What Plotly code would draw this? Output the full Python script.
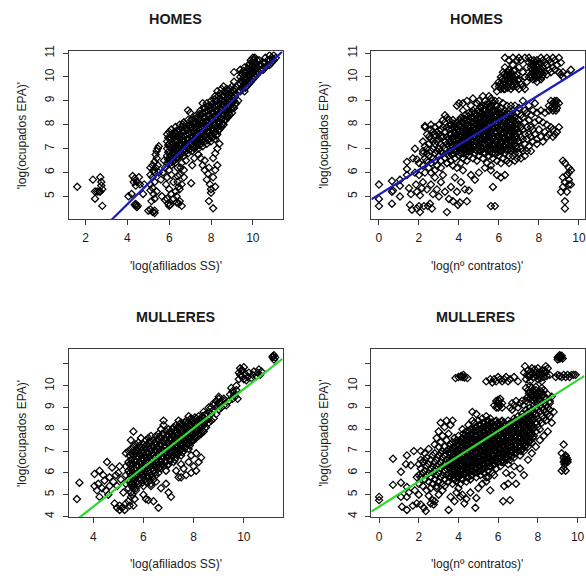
import plotly.graph_objects as go

FONT = "Liberation Sans, Arial, sans-serif"
W, H = 586, 579
BLUE = "#1c1cb8"
GREEN = "#2fd62f"

# ---------------------------------------------------------------------------
# HOMES: log(afiliados SS) vs log(ocupados EPA)
# dense band stored as (x, [y, ...]) columns, scattered points as (x, y) pairs
HOMES_SS_COLS = [
    (5.9, [6.4, 6.7, 7.0, 7.3, 7.6]), (6.0, [6.5, 6.9, 7.2, 7.7]),
    (6.1, [6.3, 6.6, 7.0, 7.4, 7.8]), (6.2, [6.6, 6.9, 7.2, 7.5]),
    (6.3, [6.4, 6.8, 7.1, 7.6, 7.9]), (6.4, [6.6, 7.0, 7.3, 7.7]),
    (6.5, [6.7, 7.0, 7.4, 7.8, 8.0]), (6.6, [6.8, 7.2, 7.5, 7.9]),
    (6.7, [6.7, 7.0, 7.3, 7.7, 8.1]), (6.8, [6.9, 7.2, 7.6, 8.0]),
    (6.9, [6.8, 7.1, 7.4, 7.8, 8.2, 8.6]), (7.0, [7.0, 7.3, 7.7, 8.0, 8.5]),
    (7.1, [6.9, 7.2, 7.5, 7.9, 8.2]), (7.2, [7.0, 7.4, 7.7, 8.1]),
    (7.3, [7.1, 7.4, 7.8, 8.1, 8.4]), (7.4, [7.0, 7.3, 7.6, 8.0, 8.3]),
    (7.5, [7.2, 7.5, 7.9, 8.2, 8.6]), (7.6, [7.1, 7.4, 7.7, 8.1, 8.5, 8.9]),
    (7.7, [7.3, 7.6, 8.0, 8.3, 8.7]), (7.8, [7.2, 7.5, 7.9, 8.2, 8.6, 8.9]),
    (7.9, [7.4, 7.7, 8.1, 8.4, 8.8]), (8.0, [7.3, 7.6, 8.0, 8.3, 8.7, 9.0]),
    (8.1, [7.5, 7.8, 8.2, 8.5, 8.9]), (8.2, [7.4, 7.7, 8.0, 8.4, 8.8, 9.2]),
    (8.3, [7.6, 7.9, 8.3, 8.6, 9.0, 9.4]), (8.4, [7.8, 8.1, 8.5, 8.9, 9.3]),
    (8.5, [7.9, 8.2, 8.6, 9.0, 9.5]), (8.6, [8.0, 8.4, 8.8, 9.2, 9.6]),
    (8.7, [8.2, 8.6, 8.9, 9.3]), (8.8, [8.3, 8.6, 9.0, 9.4]),
    (8.9, [8.4, 8.8, 9.1, 9.5]), (9.0, [8.5, 8.9, 9.2, 9.6]),
    (9.1, [8.7, 9.0, 9.4, 9.8, 10.2]), (9.2, [8.9, 9.3, 9.6]),
    (9.3, [9.0, 9.4]), (9.4, [9.4, 9.7, 10.0, 10.3]),
    (9.5, [9.5, 9.8, 10.1]), (9.6, [9.4, 9.7, 10.0, 10.4]),
    (9.7, [9.6, 9.9, 10.2]), (9.8, [9.7, 10.0, 10.3, 10.5]),
    (9.9, [9.8, 10.1, 10.4, 10.7]), (10.0, [9.9, 10.2, 10.5, 10.8]),
    (10.1, [10.0, 10.3, 10.6, 10.8]), (10.2, [10.1, 10.4, 10.7]),
    (10.3, [10.2, 10.5, 10.7]), (10.4, [10.3, 10.5]),
    (10.5, [10.3, 10.6]), (10.6, [10.4, 10.6, 10.8]),
    (10.7, [10.5, 10.7]), (10.8, [10.5, 10.7, 10.9]),
    (10.9, [10.6, 10.8]), (11.0, [10.7, 10.9]), (11.1, [10.8]),
]
HOMES_SS_FILL = [
    (5.95, [6.55, 6.85, 7.15, 7.45]), (6.05, [6.4, 6.7, 7.05, 7.45]),
    (6.15, [6.45, 6.8, 7.2, 7.6]), (6.25, [6.5, 6.75, 7.05, 7.35, 7.7]),
    (6.35, [6.6, 6.95, 7.35, 7.75]), (6.45, [6.8, 7.15, 7.5]),
    (6.55, [6.85, 7.2, 7.6]), (6.65, [6.9, 7.35, 7.7, 8.0]),
    (6.75, [6.85, 7.15, 7.5, 7.85]), (6.85, [7.05, 7.4, 7.8]),
    (6.95, [6.95, 7.25, 7.6, 7.95]), (7.05, [7.15, 7.5, 7.85, 8.2]),
    (7.15, [7.05, 7.35, 7.7, 8.05]), (7.25, [7.25, 7.55, 7.9, 8.25]),
    (7.35, [7.2, 7.6, 7.95]), (7.45, [7.15, 7.45, 7.8, 8.15, 8.45]),
    (7.55, [7.35, 7.7, 8.05, 8.4]), (7.65, [7.25, 7.55, 7.9, 8.3, 8.7]),
    (7.75, [7.45, 7.8, 8.15, 8.5]), (7.85, [7.35, 7.7, 8.05, 8.4, 8.75]),
    (7.95, [7.55, 7.9, 8.25, 8.6]), (8.05, [7.45, 7.8, 8.15, 8.5, 8.85]),
    (8.15, [7.65, 8.0, 8.35, 8.7, 9.05]), (8.25, [7.55, 7.85, 8.2, 8.6, 9.0]),
    (8.35, [7.75, 8.1, 8.45, 8.8, 9.2]), (8.45, [7.95, 8.3, 8.7, 9.1]),
    (8.55, [8.05, 8.4, 8.8, 9.2]), (8.65, [8.2, 8.55, 9.0, 9.4]),
    (8.75, [8.35, 8.75, 9.1, 9.5]), (8.85, [8.5, 8.85, 9.25]),
    (8.95, [8.65, 9.0, 9.35]), (9.05, [8.75, 9.1, 9.45]),
    (9.15, [8.85, 9.2, 9.5]), (9.45, [9.55, 9.85, 10.15]),
    (9.55, [9.6, 9.95, 10.25]), (9.65, [9.55, 9.85, 10.2]),
    (9.75, [9.75, 10.05, 10.35]), (9.85, [9.85, 10.2, 10.55]),
    (9.95, [9.95, 10.3, 10.6]), (10.05, [10.05, 10.4, 10.7]),
    (10.15, [10.15, 10.5]),
]
HOMES_SS_PTS = [
    (1.6, 5.4), (2.35, 5.7), (2.45, 5.2), (2.45, 4.9), (2.55, 5.2), (2.65, 5.2),
    (2.7, 5.8), (2.75, 5.6), (2.75, 5.45), (2.7, 5.2), (2.8, 5.3), (2.8, 4.6),
    (4.05, 5.0), (4.25, 5.85), (4.35, 5.75), (4.3, 5.6), (4.45, 5.6), (4.4, 5.45),
    (4.55, 5.8), (4.6, 5.5), (4.2, 5.1), (4.35, 4.65), (4.4, 4.6), (4.45, 4.55),
    (4.4, 4.68), (4.5, 4.6), (4.8, 5.5), (4.75, 5.1),
    (5.0, 4.4), (5.1, 4.45), (5.2, 4.35), (5.3, 4.3), (5.3, 4.4), (5.15, 4.8),
    (5.3, 4.9), (5.25, 5.1), (5.1, 5.25), (5.2, 5.35), (5.1, 5.5), (5.3, 5.6),
    (5.2, 5.8), (5.1, 5.9), (5.3, 6.0), (5.25, 6.1), (5.1, 6.2), (5.2, 6.3),
    (5.35, 6.2), (5.3, 6.45), (5.4, 6.6), (5.35, 6.75), (5.4, 6.9), (5.45, 7.0),
    (5.5, 7.1), (5.45, 6.3), (5.5, 6.0), (5.4, 5.2), (5.65, 5.0), (5.8, 4.85),
    (5.95, 4.7), (5.6, 5.7), (5.7, 6.0), (5.75, 6.5), (5.8, 6.2),
    (6.0, 6.1), (5.9, 5.8), (6.1, 5.9), (5.85, 5.5), (6.0, 5.3), (6.1, 5.1),
    (5.9, 4.9), (6.0, 4.6), (6.05, 4.65), (6.2, 5.6), (6.3, 5.2), (6.2, 4.9),
    (6.4, 6.2), (6.5, 5.9), (6.4, 5.6), (6.5, 5.3), (6.35, 5.0), (6.5, 4.8),
    (6.6, 4.6), (6.45, 4.7), (6.6, 5.5), (6.7, 6.1), (6.6, 6.4), (6.8, 6.5),
    (6.7, 5.8), (7.1, 6.3), (7.05, 5.55), (7.2, 6.6), (7.5, 6.6), (7.6, 6.3),
    (7.7, 6.1), (7.85, 5.95), (7.8, 5.7), (7.95, 5.5), (8.0, 5.3), (8.0, 5.15),
    (8.2, 5.4), (8.1, 5.8), (8.2, 6.1), (8.3, 6.3), (8.1, 6.6), (8.2, 6.8),
    (8.3, 7.0), (8.4, 7.2), (7.9, 4.8), (8.1, 4.5), (7.7, 6.5), (7.4, 6.75),
    (7.9, 6.2), (6.35, 4.75), (6.45, 5.4), (6.55, 6.2), (6.4, 5.85),
]
HOMES_SS_FIT = (1.22, 0.863)  # intercept, slope

# ---------------------------------------------------------------------------
# HOMES: log(nº contratos) vs log(ocupados EPA)
HOMES_CT_COLS = [
    (2.2, [6.3, 6.9, 7.3]), (2.3, [6.6, 7.1, 7.9, 7.95]), (2.4, [6.5, 6.8, 7.0, 7.6]),
    (2.5, [6.2, 6.7, 7.2, 7.5]), (2.6, [6.4, 6.9, 7.4, 7.8, 8.0]),
    (2.7, [6.6, 7.0, 7.3, 7.7]), (2.8, [6.5, 6.8, 7.2, 7.6, 7.9]),
    (2.9, [6.3, 6.9, 7.3, 7.7]), (3.0, [6.7, 7.0, 7.4, 7.6, 8.0]),
    (3.1, [6.5, 6.9, 7.2, 7.5, 7.8]), (3.2, [6.8, 7.1, 7.5, 7.9, 8.2]),
    (3.3, [6.6, 7.0, 7.3, 7.7, 8.1, 8.4]), (3.4, [6.4, 6.8, 7.2, 7.5, 7.9, 8.3]),
    (3.5, [6.7, 7.1, 7.4, 7.8, 8.2]), (3.6, [6.5, 6.9, 7.3, 7.6, 8.0]),
    (3.7, [6.8, 7.1, 7.5, 7.9, 8.2]), (3.8, [6.6, 7.0, 7.4, 7.7, 8.0]),
    (3.9, [6.2, 6.9, 7.2, 7.6, 8.1, 8.8]), (4.0, [6.7, 7.0, 7.4, 7.7, 8.0, 8.9]),
    (4.1, [6.4, 6.8, 7.2, 7.5, 7.9, 8.3]), (4.2, [6.6, 7.0, 7.3, 7.7, 8.1, 8.6, 8.9]),
    (4.3, [6.9, 7.2, 7.6, 8.0, 8.4]), (4.4, [6.5, 6.8, 7.1, 7.5, 7.8, 8.2, 9.0]),
    (4.5, [6.7, 7.0, 7.4, 7.7, 8.0, 8.5]), (4.6, [6.9, 7.2, 7.6, 7.9, 8.3, 8.8]),
    (4.7, [6.6, 7.0, 7.3, 7.7, 8.1, 8.6, 9.1]), (4.8, [6.8, 7.1, 7.5, 7.8, 8.2, 8.5]),
    (4.9, [6.5, 6.9, 7.3, 7.6, 8.0, 8.4, 8.9]), (5.0, [6.7, 7.1, 7.4, 7.8, 8.1, 8.5, 9.0]),
    (5.1, [6.9, 7.2, 7.6, 7.9, 8.3, 8.7]), (5.2, [6.6, 7.0, 7.4, 7.7, 8.1, 8.4, 8.8, 9.2]),
    (5.3, [6.8, 7.2, 7.5, 7.9, 8.2, 8.6, 9.0]), (5.4, [6.4, 7.0, 7.3, 7.7, 8.0, 8.4, 8.8]),
    (5.5, [6.7, 7.1, 7.5, 7.8, 8.2, 8.5, 8.9, 9.2]),
    (5.6, [6.3, 6.9, 7.3, 7.6, 8.0, 8.3, 8.7, 9.1]),
    (5.7, [6.6, 7.0, 7.4, 7.8, 8.1, 8.5, 8.9]),
    (5.8, [6.8, 7.2, 7.5, 7.9, 8.2, 8.6, 9.0, 9.6]),
    (5.9, [6.5, 7.0, 7.3, 7.7, 8.0, 8.4, 8.8, 9.4]),
    (6.0, [6.7, 7.1, 7.5, 7.8, 8.2, 8.5, 9.0, 9.6, 9.8]),
    (6.1, [6.4, 6.9, 7.3, 7.6, 8.0, 8.4, 8.7, 9.5, 10.0]),
    (6.2, [6.6, 7.0, 7.4, 7.7, 8.1, 8.5, 8.9, 9.7, 10.2]),
    (6.3, [6.8, 7.2, 7.5, 7.9, 8.3, 8.6, 9.5, 9.9, 10.4, 10.8]),
    (6.4, [6.5, 7.0, 7.4, 7.8, 8.1, 8.5, 8.8, 9.6, 10.1]),
    (6.5, [6.7, 7.1, 7.5, 7.9, 8.2, 8.6, 9.7, 10.0, 10.3, 10.7]),
    (6.6, [6.9, 7.3, 7.7, 8.0, 8.4, 8.8, 9.5, 9.9, 10.2]),
    (6.7, [6.7, 7.0, 7.4, 7.8, 8.2, 8.6, 9.6, 10.0, 10.5, 10.8]),
    (6.8, [6.8, 7.2, 7.6, 8.0, 8.3, 8.8, 9.8, 10.3]),
    (6.9, [6.6, 7.0, 7.4, 7.8, 8.1, 8.5, 9.6, 10.1, 10.7]),
    (7.0, [6.8, 7.3, 7.7, 8.2, 8.7, 9.5, 9.9, 10.4, 10.8]),
    (7.1, [7.0, 7.5, 7.9, 8.4, 9.7, 10.7]), (7.2, [6.9, 7.4, 7.8, 8.3, 9.0, 9.6, 10.2]),
    (7.3, [7.2, 7.6, 8.1, 8.6, 9.5, 10.0, 10.8]), (7.4, [6.9, 7.4, 7.9, 8.5, 9.8, 10.4]),
    (7.5, [7.1, 7.6, 8.2, 8.8, 10.0, 10.6, 10.8]), (7.6, [7.5, 7.9, 8.4, 10.1, 10.4, 10.7]),
    (7.7, [7.3, 7.8, 8.6, 9.9, 10.2, 10.5]), (7.8, [7.6, 8.1, 8.9, 10.0, 10.3, 10.6]),
    (7.9, [7.4, 8.5, 9.8, 10.1, 10.4, 10.7]), (8.0, [7.8, 8.2, 10.0, 10.3, 10.5]),
    (8.1, [7.5, 8.6, 9.9, 10.2, 10.8]), (8.2, [8.1, 10.1, 10.4, 10.7]),
    (8.3, [7.7, 8.5, 10.2, 10.6]), (8.4, [8.0, 10.1, 10.5, 10.8]),
    (8.5, [7.6, 8.6, 8.8, 10.3, 10.7]), (8.6, [7.9, 8.7, 9.0, 10.2, 10.6]),
    (8.7, [7.5, 8.6, 8.9, 10.4, 10.8]), (8.8, [8.8, 9.0, 10.3, 10.7]),
    (8.9, [7.7, 8.7, 9.0, 10.5]), (9.0, [8.9, 10.2, 10.8]),
    (9.1, [10.1, 10.6]), (9.2, [10.0, 10.2]), (9.4, [10.1]), (9.6, [10.3]),
]
HOMES_CT_FILL = [
    (3.55, [6.9, 7.25, 7.6, 8.0]), (3.65, [6.75, 7.1, 7.45, 7.8]),
    (3.75, [6.95, 7.3, 7.7, 8.05]), (3.85, [6.85, 7.2, 7.55, 7.9]),
    (3.95, [7.05, 7.4, 7.8]), (4.05, [6.85, 7.2, 7.55, 7.9, 8.2]),
    (4.15, [7.05, 7.35, 7.7, 8.1]), (4.25, [6.8, 7.15, 7.5, 7.85, 8.25]),
    (4.35, [7.0, 7.35, 7.7, 8.05]), (4.45, [6.9, 7.25, 7.6, 7.95, 8.35]),
    (4.55, [7.1, 7.5, 7.85, 8.2]), (4.65, [7.0, 7.4, 7.75, 8.1, 8.5]),
    (4.75, [7.15, 7.5, 7.9, 8.3]), (4.85, [6.95, 7.3, 7.65, 8.05, 8.4]),
    (4.95, [7.2, 7.55, 7.9, 8.25, 8.6]), (5.05, [6.9, 7.3, 7.65, 8.0, 8.35, 8.75]),
    (5.15, [7.05, 7.4, 7.8, 8.15, 8.5]), (5.25, [6.85, 7.2, 7.55, 7.95, 8.3, 8.65]),
    (5.35, [7.0, 7.4, 7.75, 8.1, 8.45, 8.85]), (5.45, [6.9, 7.25, 7.6, 7.95, 8.3, 8.7]),
    (5.55, [7.0, 7.35, 7.7, 8.05, 8.4, 8.75]),
    (5.65, [6.8, 7.15, 7.5, 7.9, 8.25, 8.6, 9.0]),
    (5.75, [7.1, 7.45, 7.85, 8.2, 8.55]), (5.85, [7.0, 7.35, 7.7, 8.1, 8.45, 8.8]),
    (5.95, [6.85, 7.2, 7.55, 7.9, 8.3, 8.65]), (6.05, [7.05, 7.4, 7.75, 8.1, 8.45, 9.7]),
    (6.15, [6.9, 7.25, 7.6, 7.95, 8.3, 9.6, 9.9]),
    (6.25, [7.1, 7.45, 7.85, 8.2, 9.5, 9.8, 10.1]),
    (6.35, [6.95, 7.3, 7.7, 8.05, 8.4, 9.7, 10.0]),
    (6.45, [7.2, 7.55, 7.95, 8.3, 9.55, 9.9, 10.2]),
    (6.55, [7.0, 7.35, 7.75, 8.1, 9.8, 10.1]), (6.65, [7.15, 7.5, 7.9, 8.25, 9.65, 10.0]),
    (6.75, [6.95, 7.35, 7.7, 8.4, 9.85, 10.25]), (6.85, [7.1, 7.5, 7.85, 9.7, 10.0]),
    (6.95, [7.3, 7.65, 8.0, 9.85]), (7.65, [10.0, 10.3, 10.55]),
    (7.75, [10.1, 10.4, 10.7]), (7.85, [9.95, 10.25, 10.5]),
    (7.95, [10.15, 10.45]), (8.05, [10.1, 10.35, 10.6]),
    (8.15, [10.0, 10.3]), (8.75, [8.7, 8.95]), (8.85, [8.6, 8.85]),
]
HOMES_CT_PTS = [
    (0.0, 5.5), (0.0, 4.9), (0.0, 4.6), (0.65, 5.65), (0.65, 5.2), (0.7, 5.25),
    (0.65, 4.7), (1.05, 5.7), (1.05, 5.45), (1.05, 5.0), (1.4, 6.45), (1.4, 6.15),
    (1.4, 5.9), (1.5, 5.35), (1.6, 5.1), (1.55, 4.65), (1.65, 4.45), (1.8, 7.0),
    (1.9, 6.55), (1.8, 6.0), (1.85, 5.5), (1.9, 5.2), (1.9, 4.5), (2.05, 4.35),
    (2.0, 4.6), (2.15, 5.35), (2.05, 5.05), (2.0, 5.9), (2.2, 5.6), (2.25, 4.6),
    (2.45, 4.6), (2.55, 4.7), (2.65, 4.5), (2.4, 5.3), (2.6, 5.5), (2.7, 5.1),
    (2.8, 5.8), (2.9, 5.3), (3.0, 5.0), (3.1, 5.6), (3.2, 5.9), (3.4, 4.35),
    (3.5, 4.9), (3.3, 5.2), (3.6, 5.4), (3.7, 4.8), (3.9, 5.2), (3.95, 4.65),
    (4.05, 4.75), (4.4, 4.8), (4.3, 5.3), (4.5, 5.25), (4.6, 5.9), (4.8, 5.7),
    (5.0, 6.0), (5.3, 6.2), (5.6, 6.1), (5.7, 5.4), (5.9, 5.9), (6.1, 5.8),
    (6.3, 5.9), (5.6, 4.6), (5.8, 4.6), (4.2, 6.1), (4.1, 5.6), (3.8, 5.8),
    (3.7, 6.3), (3.4, 6.4), (3.1, 6.2), (2.8, 6.1), (2.6, 6.0), (2.3, 6.0),
    (1.7, 6.6), (2.0, 6.4), (2.2, 6.8), (6.5, 6.4), (6.8, 6.5), (7.1, 6.6),
    (7.3, 6.7), (7.6, 6.9), (7.9, 7.2), (8.2, 7.3), (8.4, 7.5), (8.8, 7.6),
    (9.0, 7.9), (8.7, 7.8),
    (9.1, 5.2), (9.2, 6.5), (9.3, 6.4), (9.2, 5.8), (9.3, 5.6), (9.2, 5.4),
    (9.4, 5.9), (9.5, 6.0), (9.5, 6.2), (9.6, 6.1), (9.5, 5.5), (9.6, 5.5),
    (9.4, 5.2), (9.3, 4.8), (9.3, 4.5), (9.5, 5.7),
]
HOMES_CT_FIT = (5.08, 0.52)

# ---------------------------------------------------------------------------
# MULLERES: log(afiliados SS) vs log(ocupados EPA)
MULLERES_SS_COLS = [
    (5.3, [5.5, 5.9, 6.3, 6.9]), (5.4, [5.3, 5.7, 6.1, 6.5, 7.0]),
    (5.5, [5.1, 5.5, 5.9, 6.2, 6.6, 7.1, 7.5]), (5.6, [5.6, 6.0, 6.4, 6.8, 7.2, 7.9]),
    (5.7, [5.3, 5.8, 6.1, 6.5, 6.9, 7.3]), (5.8, [5.5, 5.9, 6.3, 6.7, 7.0, 7.4]),
    (5.9, [5.7, 6.0, 6.4, 6.8, 7.2, 7.6]), (6.0, [5.4, 5.8, 6.2, 6.6, 6.9, 7.3]),
    (6.1, [5.6, 6.0, 6.3, 6.7, 7.1, 7.5]), (6.2, [5.8, 6.1, 6.5, 6.9, 7.2, 7.6]),
    (6.3, [5.5, 5.9, 6.3, 6.6, 7.0, 7.4, 7.7]), (6.4, [5.7, 6.1, 6.4, 6.8, 7.2, 7.5]),
    (6.5, [5.9, 6.3, 6.6, 7.0, 7.3, 7.7]), (6.6, [6.0, 6.4, 6.8, 7.1, 7.5, 7.8]),
    (6.7, [6.2, 6.5, 6.9, 7.3, 7.6, 8.0]), (6.8, [6.3, 6.7, 7.0, 7.4, 7.8, 8.2, 8.4]),
    (6.9, [6.1, 6.5, 6.9, 7.2, 7.5, 7.9]), (7.0, [6.4, 6.8, 7.1, 7.4, 7.7, 8.0]),
    (7.1, [6.6, 6.9, 7.2, 7.6, 7.9]), (7.2, [6.5, 6.8, 7.1, 7.4, 7.7, 8.1]),
    (7.3, [6.7, 7.0, 7.3, 7.6, 7.9, 8.2]), (7.4, [6.9, 7.2, 7.5, 7.8, 8.1, 8.4]),
    (7.5, [6.8, 7.1, 7.4, 7.7, 8.0, 8.3]), (7.6, [7.0, 7.3, 7.6, 7.9, 8.2]),
    (7.7, [7.2, 7.5, 7.8, 8.1, 8.4]), (7.8, [7.1, 7.4, 7.7, 8.0, 8.3, 8.6]),
    (7.9, [7.4, 7.6, 7.9, 8.2, 8.5]), (8.0, [7.5, 7.8, 8.1, 8.4]),
    (8.1, [7.6, 7.9, 8.2, 8.5]), (8.2, [7.7, 8.0, 8.3, 8.6]),
    (8.3, [7.8, 8.1, 8.4]), (8.4, [7.9, 8.2, 8.5, 8.8]),
    (8.5, [8.1, 8.4, 8.7]), (8.6, [8.3, 8.5, 8.8, 9.0]),
    (8.7, [8.4, 8.7, 9.0]), (8.8, [8.5, 8.9, 9.2]),
    (8.9, [8.7, 9.0, 9.3]), (9.0, [8.9, 9.2, 9.4]),
    (9.1, [9.0, 9.3]), (9.2, [9.1, 9.3]),
]
MULLERES_SS_FILL = [
    (5.45, [5.6, 6.0, 6.4, 6.8]), (5.55, [5.35, 5.75, 6.1, 6.45, 6.9]),
    (5.65, [5.45, 5.85, 6.2, 6.6, 7.0]), (5.75, [5.6, 5.95, 6.35, 6.75, 7.15]),
    (5.85, [5.75, 6.1, 6.5, 6.85, 7.25]), (5.95, [5.55, 5.95, 6.3, 6.7, 7.05]),
    (6.05, [5.7, 6.1, 6.45, 6.8, 7.2]), (6.15, [5.8, 6.2, 6.55, 6.9, 7.3]),
    (6.25, [5.65, 6.0, 6.35, 6.75, 7.1, 7.45]), (6.35, [5.85, 6.2, 6.55, 6.9, 7.25]),
    (6.45, [6.0, 6.35, 6.7, 7.05, 7.4]), (6.55, [6.15, 6.5, 6.85, 7.2, 7.55]),
    (6.65, [6.25, 6.6, 6.95, 7.3, 7.65]), (6.75, [6.4, 6.75, 7.1, 7.45, 7.8]),
    (6.85, [6.5, 6.85, 7.2, 7.6]), (6.95, [6.35, 6.7, 7.05, 7.35, 7.7]),
    (7.05, [6.6, 6.95, 7.25, 7.55, 7.85]), (7.15, [6.75, 7.05, 7.35, 7.7, 8.0]),
    (7.25, [6.6, 6.9, 7.2, 7.5, 7.85]), (7.35, [6.85, 7.15, 7.45, 7.75, 8.05]),
    (7.45, [7.0, 7.3, 7.6, 7.95, 8.25]), (7.55, [6.95, 7.25, 7.55, 7.85, 8.15]),
    (7.65, [7.15, 7.45, 7.75, 8.05, 8.3]), (7.75, [7.3, 7.6, 7.9, 8.25]),
    (7.85, [7.25, 7.55, 7.85, 8.15, 8.45]), (7.95, [7.5, 7.8, 8.05, 8.35]),
    (8.05, [7.65, 7.95, 8.25, 8.55]), (8.15, [7.75, 8.05, 8.35]),
    (8.25, [7.85, 8.15, 8.45]), (8.35, [7.95, 8.3, 8.6]),
    (8.45, [8.05, 8.35, 8.65]),
]
MULLERES_SS_PTS = [
    (3.35, 4.8), (3.45, 5.55), (4.05, 5.95), (4.05, 5.4), (4.15, 5.2), (4.25, 4.9),
    (4.25, 6.1), (4.4, 5.9), (4.45, 5.65), (4.5, 5.2), (4.55, 6.5), (4.65, 5.8),
    (4.65, 5.4), (4.75, 6.25), (4.2, 5.5), (4.35, 5.3), (4.6, 5.0), (4.8, 5.6),
    (4.9, 5.9), (4.95, 5.4), (5.0, 6.0), (5.05, 6.3), (5.1, 5.7), (4.85, 4.6),
    (4.95, 4.4), (5.05, 4.5), (5.05, 4.3), (5.15, 4.4), (5.25, 4.3), (5.3, 4.6),
    (5.4, 4.7), (5.45, 4.5), (5.5, 4.9), (5.55, 5.0), (5.2, 5.1), (5.6, 5.3),
    (5.7, 5.2), (5.65, 4.8), (5.6, 4.5), (6.0, 5.0), (6.1, 4.8), (6.2, 4.75),
    (6.4, 4.7), (6.6, 4.4), (7.0, 5.1), (7.1, 4.9), (6.9, 5.5), (6.7, 5.3),
    (6.5, 5.6), (6.3, 5.4), (7.5, 5.8), (7.3, 6.1), (7.6, 6.2), (7.7, 5.9),
    (7.9, 6.0), (8.0, 6.3), (8.1, 6.1), (8.2, 6.5), (8.3, 6.7), (7.8, 6.5),
    (7.5, 6.4), (7.9, 6.8), (8.1, 6.9), (7.4, 5.8),
    (8.8, 9.1), (8.9, 9.3), (9.0, 9.5), (9.1, 9.2), (9.2, 9.4), (9.3, 9.1),
    (9.4, 9.3), (9.45, 9.6), (9.5, 9.9), (9.55, 9.4), (9.6, 9.7), (9.65, 9.5),
    (9.7, 9.8), (9.75, 9.4), (9.7, 10.0), (9.8, 10.3), (9.8, 10.6), (9.85, 10.8),
    (9.9, 10.45), (9.95, 10.7), (10.0, 10.85), (10.0, 10.3), (10.05, 10.55),
    (10.1, 10.25), (10.15, 10.4), (10.2, 10.6), (10.3, 10.35), (10.35, 10.5),
    (10.4, 10.65), (10.5, 10.45), (10.55, 10.6), (10.6, 10.75), (10.65, 10.5),
    (10.7, 10.65), (11.15, 11.3), (11.2, 11.4), (11.25, 11.3), (11.2, 11.2),
    (11.15, 11.35), (9.85, 10.5), (9.9, 10.7), (9.55, 9.75), (9.6, 9.55),
]
MULLERES_SS_FIT = (0.85, 0.90)

# ---------------------------------------------------------------------------
# MULLERES: log(nº contratos) vs log(ocupados EPA)
MULLERES_CT_COLS = [
    (2.0, [5.5, 5.9, 6.4]), (2.1, [5.8, 6.2, 6.6, 7.0]), (2.2, [5.4, 6.0, 6.5]),
    (2.3, [5.7, 6.1, 6.6, 6.9]), (2.4, [5.2, 5.9, 6.3, 6.7]), (2.5, [5.6, 6.0, 6.4, 7.1]),
    (2.6, [5.3, 5.8, 6.2, 6.6]), (2.7, [5.5, 6.0, 6.3, 6.8]),
    (2.8, [5.7, 6.1, 6.5, 6.9, 7.3]), (2.9, [5.4, 5.9, 6.3, 6.6, 7.6]),
    (3.0, [5.6, 6.0, 6.4, 6.8, 7.2, 7.9]), (3.1, [5.8, 6.2, 6.5, 6.9, 7.4, 8.3]),
    (3.2, [5.5, 5.9, 6.3, 6.7, 7.0, 7.7]), (3.3, [5.7, 6.1, 6.4, 6.8, 7.2, 8.1]),
    (3.4, [5.9, 6.2, 6.6, 7.0, 7.5, 8.4]), (3.5, [5.6, 6.0, 6.4, 6.7, 7.1, 7.8]),
    (3.6, [5.8, 6.2, 6.5, 6.9, 7.3, 8.2]), (3.7, [5.5, 5.9, 6.3, 6.6, 7.0, 7.4, 8.4]),
    (3.8, [5.7, 6.1, 6.4, 6.8, 7.2, 7.6]), (3.9, [5.6, 6.0, 6.3, 6.7, 7.0, 7.5]),
    (4.0, [5.8, 6.2, 6.5, 6.9, 7.3, 7.7]), (4.1, [5.5, 5.9, 6.3, 6.6, 7.0, 7.4]),
    (4.2, [5.7, 6.1, 6.4, 6.8, 7.2, 7.6, 8.0]), (4.3, [5.9, 6.2, 6.6, 7.0, 7.3, 7.7]),
    (4.4, [5.6, 6.0, 6.4, 6.7, 7.1, 7.5, 7.9]), (4.5, [5.8, 6.2, 6.5, 6.9, 7.3, 7.7, 8.2]),
    (4.6, [5.7, 6.1, 6.5, 6.8, 7.2, 7.6, 8.0]),
    (4.7, [5.9, 6.3, 6.6, 7.0, 7.4, 7.8, 8.4, 8.8]),
    (4.8, [6.0, 6.4, 6.8, 7.1, 7.5, 7.9, 8.3]),
    (4.9, [5.8, 6.2, 6.6, 7.0, 7.3, 7.7, 8.1, 8.7]),
    (5.0, [6.1, 6.5, 6.9, 7.2, 7.6, 8.0, 8.4]), (5.1, [5.9, 6.3, 6.7, 7.0, 7.4, 7.8, 8.2]),
    (5.2, [6.2, 6.6, 7.0, 7.3, 7.7, 8.1, 8.5]), (5.3, [6.0, 6.4, 6.8, 7.2, 7.5, 7.9, 8.3]),
    (5.4, [5.8, 6.3, 6.7, 7.1, 7.4, 7.8, 8.2, 8.6]),
    (5.5, [6.1, 6.5, 6.9, 7.2, 7.6, 8.0, 8.4]), (5.6, [6.3, 6.7, 7.0, 7.4, 7.8, 8.1, 8.5]),
    (5.7, [6.0, 6.6, 6.9, 7.3, 7.7, 8.0, 8.3]), (5.8, [6.4, 6.8, 7.2, 7.5, 7.9, 8.2]),
    (5.9, [6.2, 6.6, 7.0, 7.4, 7.7, 8.1, 8.4]), (6.0, [6.5, 6.9, 7.3, 7.6, 8.0, 8.3]),
    (6.1, [6.3, 6.7, 7.1, 7.5, 7.8, 8.2]), (6.2, [6.6, 7.0, 7.4, 7.7, 8.1, 8.4]),
    (6.3, [6.5, 6.9, 7.2, 7.6, 8.0, 8.3]), (6.4, [6.7, 7.1, 7.5, 7.9, 8.2]),
    (6.5, [6.4, 6.8, 7.2, 7.6, 8.0, 8.4]), (6.6, [6.6, 7.0, 7.4, 7.8, 8.1]),
    (6.7, [6.8, 7.2, 7.6, 8.0, 8.3]), (6.8, [6.7, 7.1, 7.5, 7.9, 8.2, 8.5]),
    (6.9, [6.9, 7.3, 7.7, 8.1, 8.4]), (7.0, [7.0, 7.4, 7.8, 8.2, 8.6]),
    (7.1, [6.8, 7.2, 7.6, 8.0, 8.4]), (7.2, [7.1, 7.5, 7.9, 8.3, 8.7]),
    (7.3, [7.0, 7.4, 7.8, 8.2, 8.6]), (7.4, [7.3, 7.7, 8.1, 8.5, 8.9]),
    (7.5, [7.2, 7.6, 8.0, 8.4, 8.8]), (7.6, [7.5, 7.9, 8.3, 8.7, 9.0]),
    (7.7, [7.4, 7.8, 8.2, 8.6, 8.9]), (7.8, [7.7, 8.1, 8.5, 8.8, 9.1]),
    (7.9, [7.9, 8.3, 8.7, 9.0]), (8.0, [8.1, 8.5, 8.9, 9.2]),
    (8.1, [8.0, 8.4, 8.8, 9.1]), (8.2, [8.3, 8.6, 9.0]),
    (8.3, [8.5, 8.9, 9.2]), (8.4, [8.4, 8.8, 9.1]),
    (8.5, [8.7, 9.0]), (8.6, [8.9, 9.2]),
]
MULLERES_CT_FILL = [
    (3.55, [5.8, 6.2, 6.55, 6.95]), (3.65, [6.0, 6.35, 6.7, 7.1]),
    (3.75, [5.75, 6.1, 6.45, 6.85, 7.2]), (3.85, [5.9, 6.25, 6.6, 7.0, 7.4]),
    (3.95, [5.8, 6.15, 6.5, 6.85, 7.25]), (4.05, [6.0, 6.35, 6.7, 7.1, 7.5]),
    (4.15, [5.75, 6.1, 6.45, 6.8, 7.2, 7.55]), (4.25, [5.95, 6.3, 6.6, 7.0, 7.4, 7.8]),
    (4.35, [6.05, 6.4, 6.8, 7.15, 7.5]), (4.45, [5.8, 6.2, 6.55, 6.9, 7.3, 7.7]),
    (4.55, [6.0, 6.35, 6.7, 7.1, 7.5, 7.9]), (4.65, [5.9, 6.3, 6.65, 7.0, 7.4, 7.8]),
    (4.75, [6.1, 6.45, 6.8, 7.2, 7.6, 8.0]), (4.85, [6.2, 6.6, 6.95, 7.3, 7.7, 8.1]),
    (4.95, [6.0, 6.4, 6.75, 7.15, 7.5, 7.9]), (5.05, [6.3, 6.7, 7.05, 7.4, 7.8, 8.2]),
    (5.15, [6.1, 6.5, 6.85, 7.2, 7.6, 8.0]), (5.25, [6.4, 6.8, 7.15, 7.5, 7.9, 8.3]),
    (5.35, [6.2, 6.6, 6.95, 7.35, 7.7, 8.1]), (5.45, [6.45, 6.85, 7.2, 7.6, 8.0, 8.4]),
    (5.55, [6.3, 6.7, 7.05, 7.4, 7.8, 8.2]), (5.65, [6.5, 6.85, 7.2, 7.55, 7.95, 8.3]),
    (5.75, [6.35, 6.75, 7.1, 7.5, 7.85, 8.15]), (5.85, [6.6, 7.0, 7.35, 7.7, 8.05, 8.35]),
    (5.95, [6.45, 6.8, 7.2, 7.55, 7.9, 8.25]), (6.05, [6.7, 7.1, 7.45, 7.8, 8.15]),
    (6.15, [6.5, 6.9, 7.3, 7.65, 8.0, 8.35]), (6.25, [6.8, 7.2, 7.55, 7.9, 8.25]),
    (6.35, [6.7, 7.05, 7.4, 7.8, 8.15]), (6.45, [6.6, 6.95, 7.35, 7.7, 8.1]),
    (6.55, [6.8, 7.15, 7.5, 7.9, 8.25]), (6.65, [6.75, 7.2, 7.6, 7.95, 8.3]),
    (6.75, [7.0, 7.4, 7.8, 8.15]), (6.85, [6.9, 7.3, 7.7, 8.05, 8.4]),
    (6.95, [7.1, 7.5, 7.9, 8.25]), (7.05, [7.2, 7.6, 8.0, 8.4]),
    (7.15, [7.0, 7.4, 7.8, 8.2, 8.55]), (7.25, [7.3, 7.7, 8.1, 8.5]),
    (7.35, [7.2, 7.6, 8.0, 8.4]), (7.45, [7.5, 7.9, 8.3, 8.7]),
    (7.55, [7.4, 7.8, 8.2, 8.6]), (7.65, [7.7, 8.1, 8.5, 8.85]),
    (7.75, [7.6, 8.0, 8.4, 8.75]),
]
MULLERES_CT_PTS = [
    (5.8, 9.1), (5.9, 9.3), (6.0, 9.0), (6.0, 9.2), (6.1, 9.1), (6.1, 9.4),
    (6.2, 9.2), (5.9, 9.0), (6.0, 9.35), (6.2, 9.0), (6.05, 9.15), (5.95, 9.2),
    (6.05, 9.3),
    (6.6, 9.0), (6.7, 9.2), (6.8, 9.1), (6.9, 9.3), (7.0, 9.0), (7.1, 9.2),
    (7.2, 9.3), (7.3, 9.1), (6.7, 8.9),
    (7.4, 9.3), (7.5, 9.5), (7.5, 9.8), (7.6, 9.4), (7.6, 9.7), (7.7, 9.5),
    (7.7, 9.9), (7.8, 9.3), (7.8, 9.6), (7.9, 9.4), (7.9, 9.8), (8.0, 9.5),
    (8.0, 9.7), (8.1, 9.3), (8.1, 9.6), (8.2, 9.5), (8.3, 9.8), (8.4, 9.4),
    (8.5, 9.6), (8.6, 9.3), (8.7, 9.5), (7.4, 9.9), (7.6, 10.0), (8.2, 9.9),
    (7.45, 9.45), (7.55, 9.65), (7.65, 9.55), (7.75, 9.75), (7.85, 9.45),
    (7.95, 9.6), (8.05, 9.4), (8.15, 9.75), (8.25, 9.6), (7.7, 9.35), (7.9, 9.95),
    (8.35, 9.5),
    (7.3, 10.6), (7.4, 10.3), (7.5, 10.7), (7.6, 10.5), (7.7, 10.8), (7.8, 10.4),
    (7.9, 10.6), (8.0, 10.8), (8.0, 10.3), (8.1, 10.5), (8.2, 10.7), (8.3, 10.4),
    (8.4, 10.6), (8.5, 10.8), (8.6, 10.5), (8.4, 10.9), (7.6, 10.2), (8.2, 10.2),
    (7.35, 10.9), (7.45, 10.5), (7.55, 10.4), (7.65, 10.65), (7.75, 10.55),
    (7.85, 10.75), (7.95, 10.45), (8.05, 10.6), (8.15, 10.35), (8.25, 10.55),
    (8.35, 10.7), (8.45, 10.45),
    (5.4, 10.2), (5.6, 10.3), (5.8, 10.3), (5.9, 10.2), (6.0, 10.4), (6.1, 10.3),
    (6.3, 10.3), (6.4, 10.4), (6.6, 10.3), (6.8, 10.4), (7.0, 10.2), (5.7, 10.15),
    (6.2, 10.2), (6.5, 10.2),
    (8.9, 10.4), (9.0, 10.5), (9.2, 10.4), (9.3, 10.5), (9.4, 10.4), (9.5, 10.5),
    (9.6, 10.4), (9.7, 10.5), (9.8, 10.5), (9.9, 10.5), (9.1, 10.45),
    (9.0, 11.3), (9.1, 11.25), (9.1, 11.4), (9.2, 11.3), (9.15, 11.35), (9.0, 11.2),
    (9.25, 11.25), (9.05, 11.35), (9.1, 11.3), (9.15, 11.28), (9.2, 11.38),
    (3.85, 10.35), (4.0, 10.4), (4.1, 10.42), (4.2, 10.4), (4.3, 10.38),
    (4.45, 10.35), (4.15, 10.45), (4.25, 10.5),
    (9.2, 6.1), (9.3, 6.2), (9.4, 6.1), (9.3, 6.5), (9.4, 6.6), (9.5, 6.6),
    (9.3, 6.7), (9.4, 6.8), (9.2, 6.9), (9.3, 7.3), (9.5, 6.5), (9.35, 6.4),
    (9.35, 6.55), (9.45, 6.7), (9.4, 6.45), (9.35, 6.6),
    (0.0, 4.9), (0.0, 4.75), (0.7, 6.65), (0.7, 5.45), (1.1, 6.05), (1.1, 5.55),
    (1.1, 4.9), (1.15, 4.45), (1.4, 6.8), (1.35, 6.4), (1.4, 5.35), (1.4, 4.9),
    (1.4, 4.3), (1.6, 6.35), (1.75, 7.0), (1.7, 4.5), (1.9, 4.6), (2.1, 4.55),
    (2.25, 4.4), (2.35, 4.25), (1.5, 5.1), (1.8, 5.2), (2.0, 5.0), (1.9, 5.8),
    (2.7, 4.75), (2.75, 4.55), (2.6, 4.6), (2.8, 4.7), (2.5, 4.95), (3.0, 5.0),
    (3.2, 5.2), (3.5, 4.3), (3.6, 4.9), (3.8, 4.7), (3.9, 5.1), (4.1, 4.9),
    (4.0, 5.3), (4.2, 5.0), (4.4, 4.8), (4.6, 5.1), (4.9, 4.85), (4.85, 4.4),
    (5.0, 5.3), (5.2, 5.5), (5.4, 5.6), (5.5, 5.8), (5.6, 5.2), (5.8, 5.9),
    (6.25, 4.7), (6.6, 4.75), (6.3, 5.4), (6.5, 5.5), (6.7, 5.9), (6.9, 5.5),
    (7.1, 6.2), (7.3, 5.9), (6.4, 6.0), (6.8, 6.3), (7.5, 6.6), (7.7, 6.9),
    (7.9, 7.2), (8.1, 7.5), (8.3, 7.7), (8.5, 7.9), (8.7, 8.3), (8.6, 8.6),
    (8.8, 8.8), (4.3, 4.6), (3.3, 5.4), (2.9, 5.3),
]
MULLERES_CT_FIT = (4.45, 0.58)

# ---------------------------------------------------------------------------
YL = "'log(ocupados EPA)'"
PANELS = [
    dict(title="HOMES", xlabel="'log(afiliados SS)'",
         cols=HOMES_SS_COLS + HOMES_SS_FILL, pts=HOMES_SS_PTS,
         fit=HOMES_SS_FIT, color=BLUE, box=(69, 45, 283, 215),
         xr=[1.2, 11.42], yr=[4.05, 11.07], xt=[2, 4, 6, 8, 10], yt=[5, 6, 7, 8, 9, 10, 11],
         tx=176, ty=12, lx=176, ly=263, yx=22),
    dict(title="HOMES", xlabel="'log(nº contratos)'",
         cols=HOMES_CT_COLS + HOMES_CT_FILL, pts=HOMES_CT_PTS,
         fit=HOMES_CT_FIT, color=BLUE, box=(372, 45, 585.5, 215),
         xr=[-0.38, 10.28], yr=[4.06, 11.07], xt=[0, 2, 4, 6, 8, 10], yt=[5, 6, 7, 8, 9, 10, 11],
         tx=477, ty=12, lx=478, ly=263, yx=325),
    dict(title="MULLERES", xlabel="'log(afiliados SS)'",
         cols=MULLERES_SS_COLS + MULLERES_SS_FILL, pts=MULLERES_SS_PTS,
         fit=MULLERES_SS_FIT, color=GREEN, box=(69, 346.7, 283, 517.3),
         xr=[3.03, 11.54], yr=[3.97, 11.69], xt=[4, 6, 8, 10], yt=[4, 5, 6, 7, 8, 9, 10, 11],
         tx=176, ty=314, lx=176, ly=565, yx=22),
    dict(title="MULLERES", xlabel="'log(nº contratos)'",
         cols=MULLERES_CT_COLS + MULLERES_CT_FILL, pts=MULLERES_CT_PTS,
         fit=MULLERES_CT_FIT, color=GREEN, box=(372, 346.7, 585.5, 517.3),
         xr=[-0.39, 10.35], yr=[3.97, 11.69], xt=[0, 2, 4, 6, 8, 10], yt=[4, 5, 6, 7, 8, 9, 10, 11],
         tx=477, ty=314, lx=478, ly=565, yx=325),
]

fig = go.Figure()
annotations = []
FRAME = "#3a3a3a"
TXT = "#1a1a1a"

for i, p in enumerate(PANELS, start=1):
    xs = [x for x, ys in p["cols"] for _ in ys] + [x for x, _ in p["pts"]]
    ys_ = [y for _, ys in p["cols"] for y in ys] + [y for _, y in p["pts"]]
    sfx = "" if i == 1 else str(i)
    fig.add_trace(go.Scatter(
        x=xs, y=ys_, mode="markers", xaxis="x" + sfx, yaxis="y" + sfx,
        marker=dict(symbol="diamond-open", size=5.5, color="black", line=dict(width=1.25)),
        showlegend=False, hoverinfo="skip"))
    a, b = p["fit"]
    x0, x1 = p["xr"]
    fig.add_trace(go.Scatter(
        x=[x0, x1], y=[a + b * x0, a + b * x1], mode="lines", xaxis="x" + sfx, yaxis="y" + sfx,
        line=dict(color=p["color"], width=2.2), showlegend=False, hoverinfo="skip"))

    left, top, right, bottom = p["box"]
    # the topmost tick of the MULLERES panels carries no label
    ytext = [str(v) if v != 11 or p["yt"][0] == 5 else "" for v in p["yt"]]
    axis_common = dict(showgrid=False, zeroline=False, showline=True, mirror=True,
                       linecolor=FRAME, linewidth=1, ticks="outside", ticklen=5,
                       tickcolor=FRAME, tickwidth=1,
                       tickfont=dict(family=FONT, size=12, color=TXT))
    fig.update_layout(**{
        "xaxis" + sfx: dict(domain=[left / W, right / W], range=p["xr"], tickvals=p["xt"],
                            anchor="y" + sfx, ticklabelstandoff=3, **axis_common),
        "yaxis" + sfx: dict(domain=[1 - bottom / H, 1 - top / H], range=p["yr"],
                            tickvals=p["yt"], ticktext=ytext, tickangle=-90,
                            anchor="x" + sfx, ticklabelstandoff=4, **axis_common),
    })
    annotations += [
        dict(text="<b>%s</b>" % p["title"], x=p["tx"] / W, y=1 - p["ty"] / H,
             font=dict(family=FONT, size=14.4, color=TXT)),
        dict(text=p["xlabel"], x=p["lx"] / W, y=1 - p["ly"] / H,
             font=dict(family=FONT, size=12, color=TXT)),
        dict(text=YL, x=p["yx"] / W, y=1 - ((top + bottom) / 2) / H, textangle=-90,
             font=dict(family=FONT, size=12, color=TXT)),
    ]

for ann in annotations:
    ann.update(xref="paper", yref="paper", showarrow=False, xanchor="center", yanchor="middle")

fig.update_layout(width=W, height=H, margin=dict(l=0, r=0, t=0, b=0),
                  paper_bgcolor="white", plot_bgcolor="white",
                  annotations=annotations)

fig.write_html("out.html")
